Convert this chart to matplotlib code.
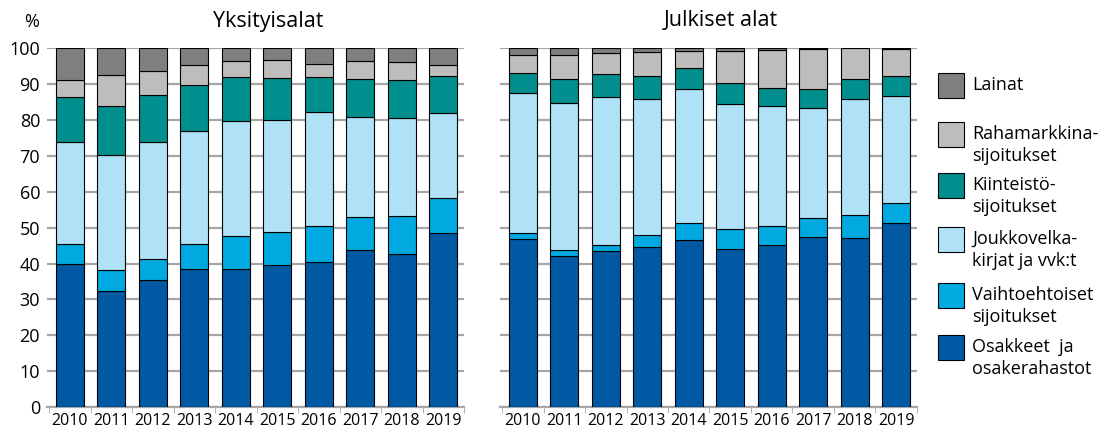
import numpy as np
import matplotlib
matplotlib.use("Agg")
import matplotlib.pyplot as plt
from matplotlib.patches import Rectangle
from matplotlib.ticker import MultipleLocator

plt.rcParams['font.family'] = ['Open Sans', 'DejaVu Sans']

years = [str(y) for y in range(2010, 2020)]

categories = ['Osakkeet  ja\nosakerahastot', 'Vaihtoehtoiset\nsijoitukset',
              'Joukkovelka-\nkirjat ja vvk:t', 'Kiinteistö-\nsijoitukset',
              'Rahamarkkina-\nsijoitukset', 'Lainat']
colors = ['#0059a2', '#00a9e0', '#afe2f6', '#008f8d', '#bebdbc', '#7f807d']

# Yksityisalat (private sector), % shares
priv_osakkeet = [39.9, 32.4, 35.3, 38.5, 38.6, 39.6, 40.5, 43.9, 42.6, 48.6]
priv_vaihto = [5.5, 5.9, 5.9, 7.1, 9.1, 9.1, 10.1, 9.1, 10.8, 9.8]
priv_jouk = [28.4, 32.1, 32.6, 31.4, 32.1, 31.4, 31.6, 28.0, 27.1, 23.6]
priv_kiint = [12.6, 13.5, 13.2, 12.8, 12.3, 11.6, 9.9, 10.4, 10.6, 10.3]
priv_raha = [4.9, 8.8, 6.8, 5.7, 4.4, 5.0, 3.6, 5.2, 5.0, 3.2]
priv_lainat = [8.7, 7.3, 6.2, 4.5, 3.5, 3.3, 4.3, 3.4, 3.9, 4.5]

# Julkiset alat (public sector), % shares
pub_osakkeet = [46.9, 42.1, 43.4, 44.5, 46.6, 44.1, 45.3, 47.4, 47.1, 51.3]
pub_vaihto = [1.5, 1.7, 1.9, 3.4, 4.6, 5.5, 5.2, 5.2, 6.4, 5.7]
pub_jouk = [39.2, 41.1, 41.2, 38.1, 37.5, 35.0, 33.5, 30.8, 32.4, 29.7]
pub_kiint = [5.7, 6.5, 6.4, 6.2, 5.8, 5.7, 5.0, 5.3, 5.7, 5.5]
pub_raha = [5.0, 6.9, 5.8, 6.9, 4.9, 9.1, 10.5, 11.2, 8.4, 7.6]
pub_lainat = [1.7, 1.7, 1.3, 0.9, 0.6, 0.6, 0.5, 0.1, 0.1, 0.2]

priv = [priv_osakkeet, priv_vaihto, priv_jouk, priv_kiint, priv_raha, priv_lainat]
pub = [pub_osakkeet, pub_vaihto, pub_jouk, pub_kiint, pub_raha, pub_lainat]

fig = plt.figure(figsize=(11.12, 4.33), dpi=100)
ax1 = fig.add_axes([0.0423, 0.06, 0.375, 0.828])
ax2 = fig.add_axes([0.4496, 0.06, 0.375, 0.828])


def draw_panel(ax, series, show_labels):
    x = np.arange(len(years))
    bottom = np.zeros(len(years))
    for vals, col in zip(series, colors):
        ax.bar(x, vals, bottom=bottom, width=0.67, color=col,
               edgecolor='black', linewidth=0.8, zorder=3)
        bottom += np.array(vals)
    ax.set_xlim(-0.55, 9.5)
    ax.set_ylim(0, 100)
    ax.yaxis.set_major_locator(MultipleLocator(10))
    ax.grid(axis='y', color='#a6a6a6', linewidth=1.6, zorder=0)
    ax.set_xticks(x)
    ax.set_xticklabels(years, fontsize=11.5)
    ax.set_xticks(np.arange(-0.5, 10, 1), minor=True)
    ax.tick_params(axis='x', which='major', length=0, pad=4)
    ax.tick_params(axis='x', which='minor', length=4, color='#a6a6a6',
                   direction='out')
    ax.tick_params(axis='y', length=0, labelsize=13, pad=5,
                   labelleft=show_labels)
    for s in ['top', 'right', 'left']:
        ax.spines[s].set_visible(False)
    ax.spines['bottom'].set_color('#a6a6a6')
    ax.spines['bottom'].set_linewidth(1.6)


draw_panel(ax1, priv, True)
draw_panel(ax2, pub, False)

fig.text(268 / 1112, 1 - 21 / 433, 'Yksityisalat', fontsize=15.5,
         ha='center', va='center')
fig.text(721 / 1112, 1 - 21 / 433, 'Julkiset alat', fontsize=15.5,
         ha='center', va='center')
fig.text(32 / 1112, 1 - 22 / 433, '%', fontsize=13, ha='center', va='center')

# legend, top item first
leg_centers = [85, 134, 185, 239, 295, 347]
for i, yc in enumerate(leg_centers):
    idx = len(categories) - 1 - i
    fig.patches.append(Rectangle((938 / 1112, 1 - (yc + 12.5) / 433),
                                 26 / 1112, 25 / 433,
                                 facecolor=colors[idx], edgecolor='black',
                                 linewidth=0.8, transform=fig.transFigure))
    label = categories[idx]
    if '\n' in label:
        fig.text(972 / 1112, 1 - (yc + 11) / 433, label, fontsize=13,
                 ha='left', va='center', linespacing=1.3)
    else:
        fig.text(972 / 1112, 1 - yc / 433, label, fontsize=13,
                 ha='left', va='center')

fig.savefig('out.png', dpi=100)
